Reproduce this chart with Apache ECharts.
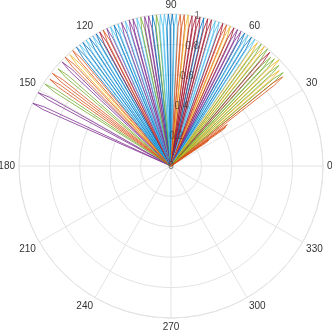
<!DOCTYPE html>
<html>
<head>
<meta charset="UTF-8">
<title>polar petals</title>
<script src="https://cdn.jsdelivr.net/npm/echarts@6/dist/echarts.min.js"></script>
<style>
    body { margin: 0; background: #fff; }
    #chart { width: 332px; height: 332px; }
</style>
</head>
<body>
<div id="chart"></div>
<script>
    // petal direction (deg), length (0..1) and colour slot
    const petalAngle = [155.6, 151.1, 147, 144.4, 142, 139.3, 136.3, 134.2, 132.3, 130.4,
        128.5, 127, 125.5, 124, 122.5, 121, 119.5, 118, 116.5, 115,
        113.5, 112, 110.5, 109, 107.5, 106, 104.5, 103, 101.5, 100,
        98.5, 97, 95.5, 94, 92.5, 91, 89.5, 88, 86.5, 85,
        83.5, 82, 80.5, 79, 77.5, 76, 74.5, 73, 71.5, 70,
        68.5, 67, 65.5, 64, 62.5, 61, 59.5, 58, 56.5, 55,
        53.5, 52, 50.5, 49, 47.5, 46, 44.5, 43, 41.4, 39.8,
        38.6, 36.2, 35.4, 34.2];
    const petalRadius = [1, 1, 0.99, 0.98, 0.99, 0.98, 0.99, 1, 0.99, 1,
        1, 1, 1, 1, 1, 1, 1, 1, 1, 1,
        1, 1, 1, 1, 1, 1, 1, 1, 1, 1,
        1, 1, 1, 1, 1, 1, 1, 1, 1, 1,
        1, 1, 1, 1, 1, 1, 1, 1, 1, 1,
        1, 1, 1, 1, 1, 1, 1, 1, 1, 0.99,
        1, 1, 1, 0.99, 0.97, 0.98, 1, 0.97, 0.95, 0.96,
        0.94, 0.46, 0.44, 0.3];
    // 0 blue, 1 orange, 2 yellow, 3 purple, 4 green, 5 light blue, 6 dark red
    const petalColorIdx = [3, 3, 4, 1, 1, 4, 3, 1, 2, 1,
        0, 5, 0, 5, 0, 5, 0, 6, 1, 3,
        5, 0, 5, 3, 5, 3, 3, 5, 4, 3,
        3, 0, 4, 5, 5, 0, 0, 5, 1, 1,
        2, 6, 6, 6, 0, 6, 6, 5, 5, 6,
        1, 2, 6, 3, 3, 0, 5, 0, 5, 2,
        4, 2, 4, 6, 4, 4, 2, 4, 2, 4,
        1, 1, 1, 1];
    const angleTicks = [0, 30, 60, 90, 120, 150, 180, 210, 240, 270, 300, 330];
    const radiusTicks = [0, 0.2, 0.4, 0.6, 0.8, 1];

    const palette = ['#0072BD', '#D95319', '#EDB120', '#7E2F8E', '#77AC30', '#4DBEEE', '#A2142F'];
    const gridColor = '#e3e3e3';
    const textColor = '#333';

    const chart = echarts.init(document.getElementById('chart'));

    const series = petalAngle.map((a, i) => {
        const r = petalRadius[i];
        return {
            type: 'line',
            coordinateSystem: 'polar',
            polarIndex: 0,
            symbol: 'none',
            silent: true,
            z: 2,
            lineStyle: { width: 1, color: palette[petalColorIdx[i]], opacity: 0.8 },
            data: [[0, a], [r * 0.92, a - 0.6], [r, a], [r * 0.92, a + 0.6], [0, a]]
        };
    });

    chart.setOption({
        animation: false,
        polar: [
            { center: [171, 166], radius: 152 },
            { center: [171, 166], radius: 152 }
        ],
        angleAxis: [{
            polarIndex: 0,
            type: 'value',
            min: 0,
            max: 360,
            interval: 30,
            startAngle: 0,
            clockwise: false,
            axisLine: { lineStyle: { color: gridColor, width: 1 } },
            axisTick: { show: false },
            axisLabel: {
                margin: 4,
                color: textColor,
                fontSize: 10,
                fontFamily: 'Liberation Sans',
                formatter: v => angleTicks.includes(v) ? String(v) : ''
            },
            splitLine: { lineStyle: { color: gridColor, width: 1 } }
        }, {
            polarIndex: 1,
            type: 'value',
            min: 0,
            max: 360,
            startAngle: 80,
            clockwise: false,
            show: false
        }],
        radiusAxis: [{
            polarIndex: 0,
            min: 0,
            max: 1,
            interval: 0.2,
            axisLine: { show: false },
            axisTick: { show: false },
            axisLabel: { show: false },
            splitLine: { lineStyle: { color: gridColor, width: 1 } }
        }, {
            polarIndex: 1,
            min: 0,
            max: 1,
            interval: 0.2,
            z: 10,
            zlevel: 1,
            axisLine: { show: false },
            axisTick: { show: false },
            splitLine: { show: false },
            axisLabel: {
                margin: 0,
                align: 'center',
                verticalAlign: 'middle',
                color: 'rgba(51,51,51,0.7)',
                fontSize: 10,
                fontFamily: 'Liberation Sans',
                formatter: v => radiusTicks.includes(+v.toFixed(1)) ? String(+v.toFixed(1)) : ''
            }
        }],
        series: series
    });
</script>
</body>
</html>
